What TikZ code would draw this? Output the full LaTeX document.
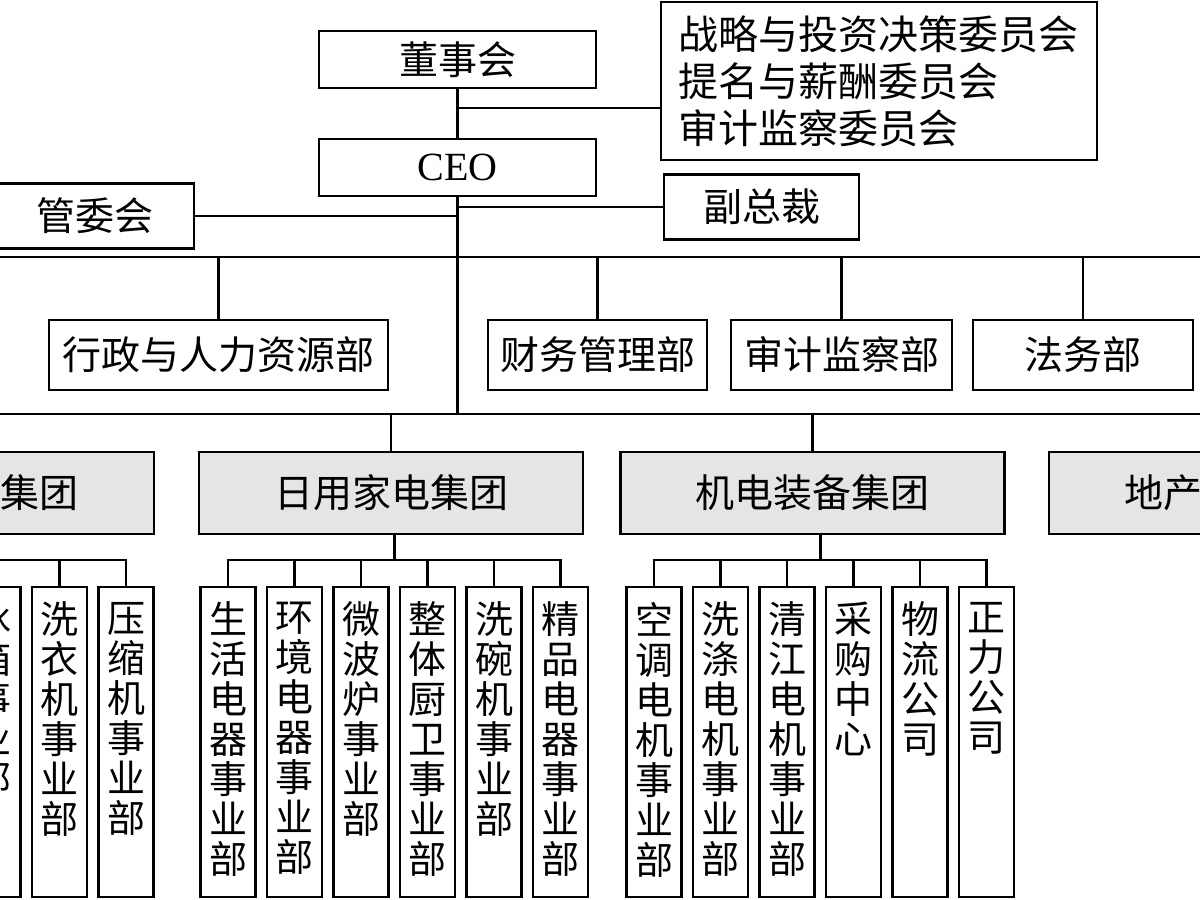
\documentclass[tikz,border=0pt]{standalone}
\usepackage{fontspec}
\setmainfont{Liberation Serif}
\newfontfamily\cjk{Noto Sans CJK SC}
\usetikzlibrary{positioning,calc}
\definecolor{grpfill}{gray}{0.9}
\newcommand{\vlabel}[1]{\parbox[t][280pt][t]{44pt}{\centering #1}}

\begin{document}
\begin{tikzpicture}[x=1pt, y=-1pt,
    cell/.style={draw, line width=2.7pt, outer sep=0pt, inner sep=0pt, font=\cjk\fontsize{39}{47}\selectfont},
    head/.style={cell, minimum width=277pt, minimum height=57pt},
    sidebox/.style={cell, minimum height=65pt},
    dept/.style={cell, minimum height=70pt},
    grp/.style={cell, fill=grpfill, minimum width=384pt, minimum height=82pt},
    unit/.style={cell, minimum width=55pt, minimum height=310pt, inner xsep=5.5pt, inner ysep=15pt, font=\cjk\fontsize{38}{40}\selectfont},
    link/.style={line width=2.7pt}
]
\useasboundingbox (0,0) rectangle (1200,900);
\clip (0,0) rectangle (1200,900);

\node[head] (board) at (457.5,59.5) {董事会};
\node[head, font=\rmfamily\fontsize{40}{48}\selectfont] (ceo) at (457.5,167.5) {CEO};
\node[cell, minimum width=436pt, minimum height=158pt, text width=402pt, align=left, font=\cjk\fontsize{40}{47}\selectfont] (comm) at (879,81) {战略与投资决策委员会\\提名与薪酬委员会\\审计监察委员会};
\node[sidebox, minimum width=195pt] (vp) at (761.5,207) {副总裁};
\node[sidebox, minimum width=198pt] (mc) at (95,216) {管委会};

\node[dept, minimum width=339pt] (hr) at (218.5,355) {行政与人力资源部};
\node[dept, minimum width=219pt] (fin) at (597.5,355) {财务管理部};
\node[dept, minimum width=221pt] (audit) at (841.5,355) {审计监察部};
\node[dept, minimum width=220pt] (legal) at (1083,355) {法务部};

\node[grp] (cool) at (-38,493) {制冷家电集团};
\node[grp] (home) at (391,493) {日用家电集团};
\node[grp] (mech) at (812.5,493) {机电装备集团};
\node[grp] (estate) at (1241,493) {地产发展集团};

\node[unit] (a1) at (-7,742) {\vlabel{冰\\箱\\事\\业\\部}};
\node[unit, right=11.5pt of a1] (a2) {\vlabel{洗\\衣\\机\\事\\业\\部}};
\node[unit, right=11.5pt of a2] (a3) {\vlabel{压\\缩\\机\\事\\业\\部}};

\node[unit] (b1) at (228,742) {\vlabel{生\\活\\电\\器\\事\\业\\部}};
\node[unit, right=11.5pt of b1] (b2) {\vlabel{环\\境\\电\\器\\事\\业\\部}};
\node[unit, right=11.5pt of b2] (b3) {\vlabel{微\\波\\炉\\事\\业\\部}};
\node[unit, right=11.5pt of b3] (b4) {\vlabel{整\\体\\厨\\卫\\事\\业\\部}};
\node[unit, right=11.5pt of b4] (b5) {\vlabel{洗\\碗\\机\\事\\业\\部}};
\node[unit, right=11.5pt of b5] (b6) {\vlabel{精\\品\\电\\器\\事\\业\\部}};

\node[unit] (c1) at (654,742) {\vlabel{空\\调\\电\\机\\事\\业\\部}};
\node[unit, right=11.5pt of c1] (c2) {\vlabel{洗\\涤\\电\\机\\事\\业\\部}};
\node[unit, right=11.5pt of c2] (c3) {\vlabel{清\\江\\电\\机\\事\\业\\部}};
\node[unit, right=11.5pt of c3] (c4) {\vlabel{采\\购\\中\\心}};
\node[unit, right=11.5pt of c4] (c5) {\vlabel{物\\流\\公\\司}};
\node[unit, right=11.5pt of c5] (c6) {\vlabel{正\\力\\公\\司}};

\coordinate (commjoin) at (457.5,108);
\coordinate (busAw) at (-20,257);
\coordinate (busAe) at (1220,257);
\coordinate (busBw) at (-20,414);
\coordinate (busBe) at (1220,414);

\draw[link] (board.south) -- (ceo.north);
\draw[link] (commjoin) -- (commjoin -| comm.west);
\draw[link] (ceo.south) -- (ceo.south |- busBw);
\draw[link] (ceo.south |- vp.west) -- (vp.west);
\draw[link] (ceo.south |- mc.east) -- (mc.east);

\draw[link] (busAw) -- (busAe);
\draw[link] (hr.north) -- (hr.north |- busAw);
\draw[link] (fin.north) -- (fin.north |- busAw);
\draw[link] (audit.north) -- (audit.north |- busAw);
\draw[link] (legal.north) -- (legal.north |- busAw);

\draw[link] (busBw) -- (busBe);
\draw[link] (cool.north) -- (cool.north |- busBw);
\draw[link] (home.north) -- (home.north |- busBw);
\draw[link] (mech.north) -- (mech.north |- busBw);
\draw[link] (estate.north) -- (estate.north |- busBw);

\draw[link] (cool.south) -- ++(0,26) -| (a3.north);
\draw[link] (a1.north) -- ++(0,-27);
\draw[link] (a2.north) -- ++(0,-27);

\coordinate (homejoin) at ($(b1.north)!.5!(b6.north)$);
\draw[link] (home.south -| homejoin) -- ++(0,26);
\draw[link] (b1.north) -- ++(0,-27) -| (b6.north);
\draw[link] (b2.north) -- ++(0,-27);
\draw[link] (b3.north) -- ++(0,-27);
\draw[link] (b4.north) -- ++(0,-27);
\draw[link] (b5.north) -- ++(0,-27);

\coordinate (mechjoin) at ($(c1.north)!.5!(c6.north)$);
\draw[link] (mech.south -| mechjoin) -- ++(0,26);
\draw[link] (c1.north) -- ++(0,-27) -| (c6.north);
\draw[link] (c2.north) -- ++(0,-27);
\draw[link] (c3.north) -- ++(0,-27);
\draw[link] (c4.north) -- ++(0,-27);
\draw[link] (c5.north) -- ++(0,-27);
\end{tikzpicture}
\end{document}
